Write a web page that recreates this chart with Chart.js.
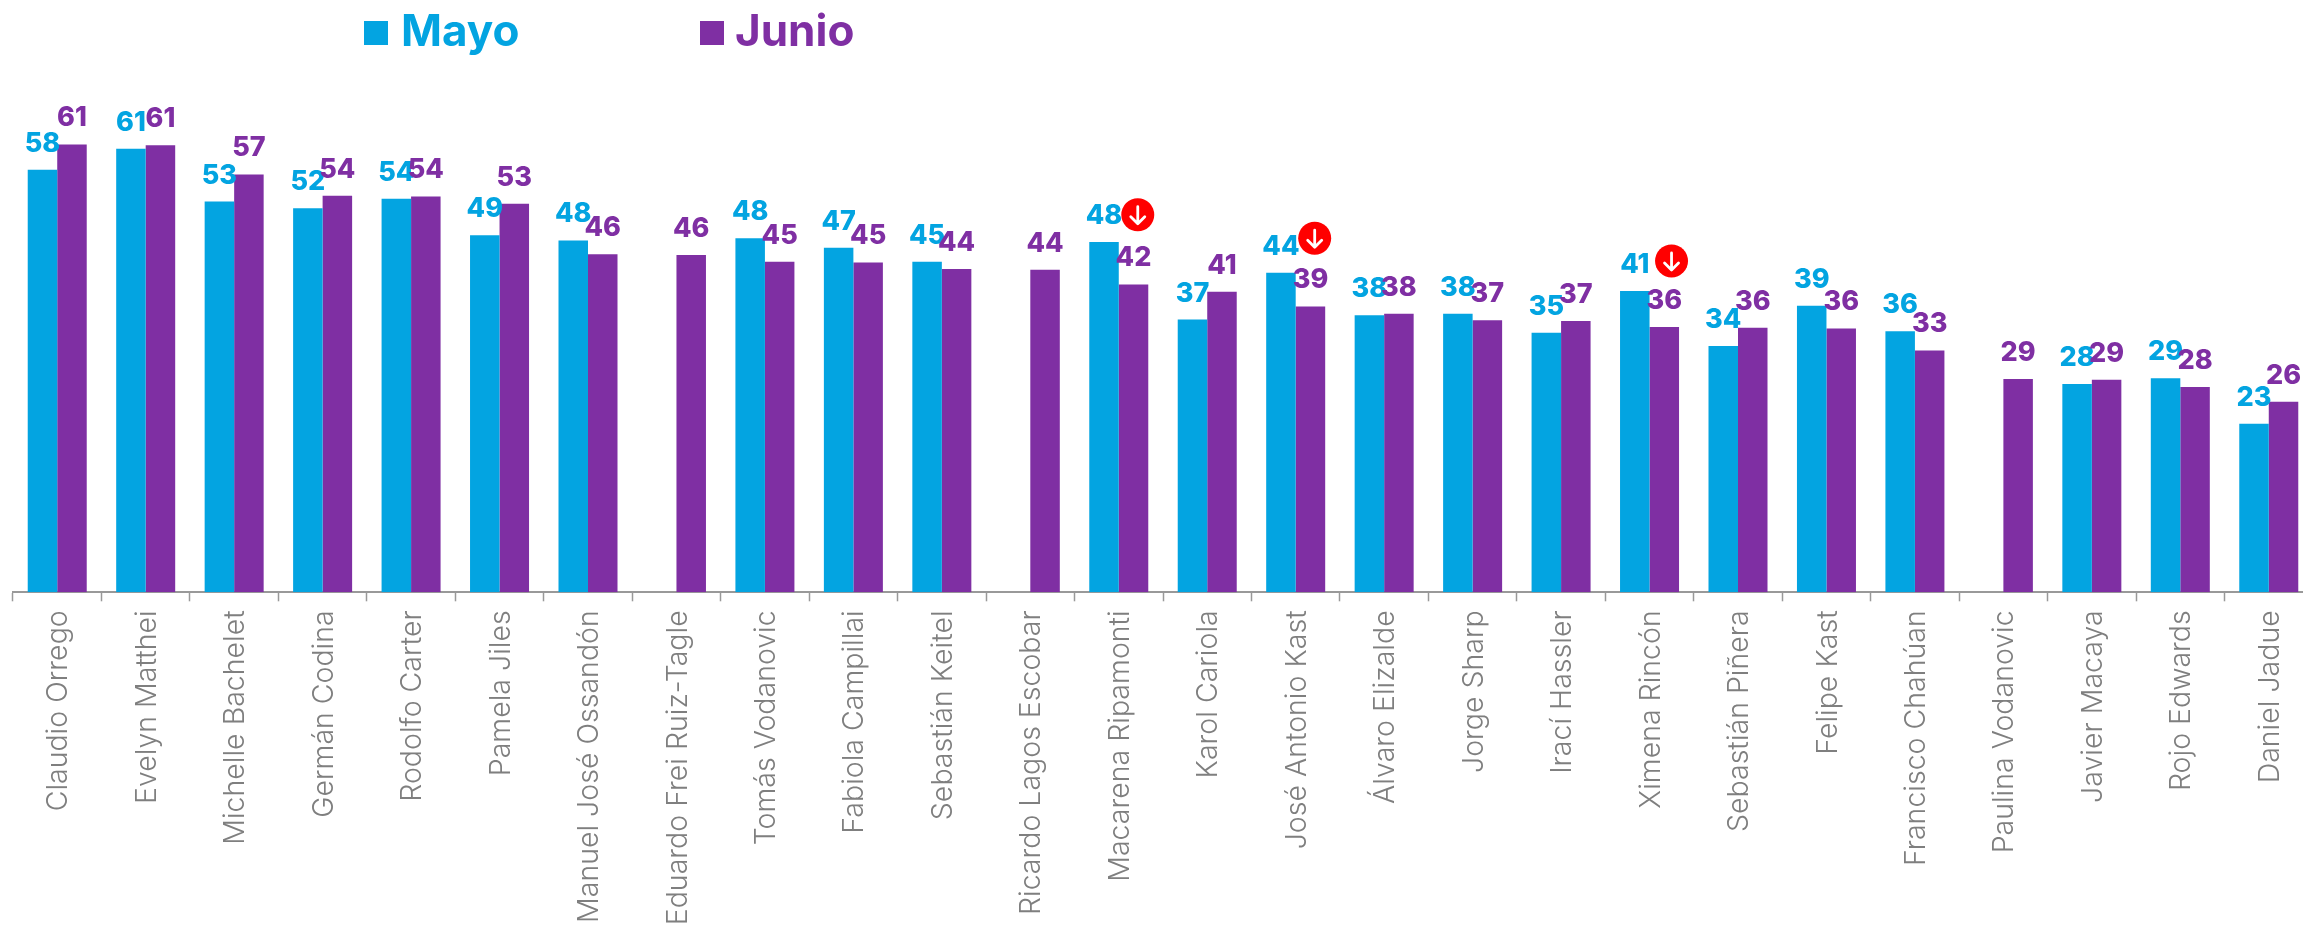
<!DOCTYPE html>
<html>
<head>
<meta charset="utf-8">
<style>
    html, body { margin: 0; padding: 0; background: #fff; overflow: hidden; }
    /* el eje sigue un poco más allá del borde derecho de la ventana */
    #contenedor { width: 2313px; height: 930px; }
</style>
</head>
<body>
<div id="contenedor"><canvas id="graficoPersonajes"></canvas></div>
<script src="https://cdn.jsdelivr.net/npm/chart.js@4"></script>
<script>
const personajes = [
    "Claudio Orrego", "Evelyn Matthei", "Michelle Bachelet", "Germán Codina", "Rodolfo Carter",
    "Pamela Jiles", "Manuel José Ossandón", "Eduardo Frei Ruiz-Tagle", "Tomás Vodanovic",
    "Fabiola Campillai", "Sebastián Keitel", "Ricardo Lagos Escobar", "Macarena Ripamonti",
    "Karol Cariola", "José Antonio Kast", "Álvaro Elizalde", "Jorge Sharp", "Irací Hassler",
    "Ximena Rincón", "Sebastián Piñera", "Felipe Kast", "Francisco Chahúan", "Paulina Vodanovic",
    "Javier Macaya", "Rojo Edwards", "Daniel Jadue",
];

const valoresMayo = [
    57.65, 60.5, 53.3, 52.4, 53.7, 48.7, 48.0, null, 48.3, 47.0, 45.1, null, 47.8,
    37.2, 43.6, 37.8, 38.0, 35.4, 41.1, 33.6, 39.1, 35.6, null, 28.4, 29.2, 23.0,
];

const valoresJunio = [
    61.1, 61.0, 57.0, 54.1, 54.0, 53.0, 46.1, 46.0, 45.1, 45.0, 44.1, 44.0, 42.0,
    41.0, 39.0, 38.0, 37.1, 37.0, 36.2, 36.1, 36.0, 33.0, 29.1, 29.0, 28.0, 26.0,
];

// personajes que bajan, con la altura de la marca roja en unidades del eje
const personajesBaja = ["Macarena Ripamonti", "José Antonio Kast", "Ximena Rincón"];
const nivelesBaja = [51.5, 48.3, 45.2];
const desfasesBaja = [19, 19, 22];

const colorMayo = "#03a4e1";
const colorJunio = "#7f2fa3";
const fuente = "Inter, 'Noto Sans', sans-serif";

const etiquetasBarras = {
    id: "etiquetasBarras",
    afterDatasetsDraw(chart) {
        const ctx = chart.ctx;
        ctx.save();
        ctx.font = "800 27px " + fuente;
        ctx.textAlign = "center";
        ctx.textBaseline = "alphabetic";
        chart.data.datasets.forEach((dataset, i) => {
            ctx.fillStyle = dataset.backgroundColor;
            chart.getDatasetMeta(i).data.forEach((barra, j) => {
                if (dataset.data[j] === null) return;
                ctx.fillText(String(Math.round(dataset.data[j])), barra.x, barra.y - 18);
            });
        });
        ctx.restore();
    },
};

const marcasBaja = {
    id: "marcasBaja",
    afterDatasetsDraw(chart) {
        const ctx = chart.ctx;
        personajesBaja.forEach((nombre, i) => {
            const x = chart.scales.x.getPixelForValue(personajes.indexOf(nombre)) + desfasesBaja[i];
            const y = chart.scales.y.getPixelForValue(nivelesBaja[i]);
            ctx.save();
            ctx.fillStyle = "#ff0000";
            ctx.beginPath();
            ctx.arc(x, y, 16.5, 0, Math.PI * 2);
            ctx.fill();
            ctx.strokeStyle = "#ffffff";
            ctx.lineWidth = 2.8;
            ctx.lineCap = "round";
            ctx.lineJoin = "round";
            ctx.beginPath();
            ctx.moveTo(x, y - 8);
            ctx.lineTo(x, y + 8);
            ctx.moveTo(x - 7, y + 2);
            ctx.lineTo(x, y + 9);
            ctx.lineTo(x + 7, y + 2);
            ctx.stroke();
            ctx.restore();
        });
    },
};

const leyendaMeses = {
    id: "leyendaMeses",
    afterDraw(chart) {
        const ctx = chart.ctx;
        ctx.save();
        ctx.font = "700 44px " + fuente;
        ctx.textBaseline = "alphabetic";
        chart.data.datasets.forEach((dataset, i) => {
            const x = i === 0 ? 364 : 700;
            ctx.fillStyle = dataset.backgroundColor;
            ctx.fillRect(x, 21, 24, 24);
            ctx.fillText(dataset.label, x + (i === 0 ? 37 : 35), 45.5);
        });
        ctx.restore();
    },
};

const dataGrafico = {
    labels: personajes,
    datasets: [
        { label: "Mayo", backgroundColor: colorMayo, data: valoresMayo },
        { label: "Junio", backgroundColor: colorJunio, data: valoresJunio },
    ],
};

const configGrafico = {
    type: "bar",
    data: dataGrafico,
    plugins: [etiquetasBarras, marcasBaja, leyendaMeses],
    options: {
        responsive: true,
        maintainAspectRatio: false,
        animation: false,
        categoryPercentage: 0.667,
        barPercentage: 1,
        layout: {
            padding: { left: 13, right: 0, top: 42.5, bottom: 0 },
        },
        plugins: {
            legend: { display: false },
            tooltip: { enabled: false },
            title: { display: false },
        },
        scales: {
            x: {
                afterFit(scale) {
                    scale.height = 337.7;
                },
                border: { display: true, color: "#999999", width: 2 },
                grid: {
                    display: true,
                    offset: true,
                    drawOnChartArea: false,
                    drawTicks: true,
                    tickLength: 9,
                    tickColor: "#999999",
                    tickWidth: 1.5,
                },
                ticks: {
                    autoSkip: false,
                    minRotation: 90,
                    maxRotation: 90,
                    padding: 9,
                    labelOffset: 1.5,
                    color: "#7f7f7f",
                    font: { family: fuente, size: 28.5, weight: "300" },
                },
            },
            y: {
                display: false,
                min: 0,
                max: 75,
            },
        },
    },
};

const chartPersonajes = new Chart(document.getElementById("graficoPersonajes"), configGrafico);
</script>
</body>
</html>
